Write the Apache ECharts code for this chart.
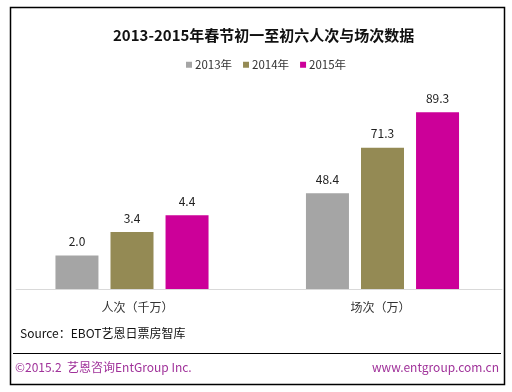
<!DOCTYPE html>
<html><head><meta charset="utf-8">
<script src="https://cdn.jsdelivr.net/npm/echarts@6/dist/echarts.min.js"></script>
<style>html,body{margin:0;padding:0;background:#fff}#c{width:512px;height:392px}</style>
</head><body><div id="c"></div>
<script>
const categories = ['人次（千万）', '场次（万）'];
const years = ['2013年', '2014年', '2015年'];
const viewers = [2.0, 3.4, 4.4];
const screenings = [48.4, 71.3, 89.3];
const colors = ['#A5A5A5', '#948A54', '#CC0099'];

const FONT = '"Noto Sans CJK SC", "Noto Sans", sans-serif';
const chart = echarts.init(document.getElementById('c'), null, {renderer: 'canvas'});

const series = [];
years.forEach((y, i) => {
  const common = {
    type: 'bar', name: y, barWidth: 43, barGap: '28%',
    itemStyle: {color: colors[i]},
    label: {show: true, position: 'top', distance: 8, color: '#222', fontSize: 12, fontFamily: FONT,
      formatter: p => Number(p.value).toFixed(1)}
  };
  series.push(Object.assign({}, common, {xAxisIndex: 1, yAxisIndex: 1, data: [viewers[i]]}));
  series.push(Object.assign({}, common, {xAxisIndex: 2, yAxisIndex: 2, data: [screenings[i]]}));
});

const hiddenX = (idx) => ({type: 'category', gridIndex: idx, data: [''], show: false});
const hiddenY = (idx, max) => ({type: 'value', gridIndex: idx, min: 0, max: max, show: false, splitLine: {show: false}});

chart.setOption({
  animation: false,
  textStyle: {fontFamily: FONT},
  title: {
    text: '2013-2015年春节初一至初六人次与场次数据',
    left: 108, top: 23,
    textStyle: {fontSize: 15, fontWeight: 'bold', color: '#111', fontFamily: FONT}
  },
  legend: {
    data: years, top: 54, left: 181,
    itemWidth: 6, itemHeight: 6, itemGap: 11,
    icon: 'rect',
    textStyle: {fontSize: 11.5, color: '#333', fontFamily: FONT, padding: [0, 0, 0, -2]}
  },
  grid: [
    {left: 16, width: 486, top: 91, height: 198},
    {left: 16, width: 232, top: 91, height: 198},
    {left: 263, width: 239, top: 91, height: 198}
  ],
  xAxis: [
    {type: 'category', gridIndex: 0, data: categories,
      axisLine: {lineStyle: {color: '#D9D9D9', width: 1}},
      axisTick: {show: false},
      axisLabel: {color: '#333', fontSize: 12, margin: 12, fontFamily: FONT}},
    hiddenX(1), hiddenX(2)
  ],
  yAxis: [hiddenY(0, 1), hiddenY(1, 11.8), hiddenY(2, 100)],
  series: series,
  graphic: [
    {type: 'rect', shape: {x: 10.5, y: 7.5, width: 494, height: 377}, style: {fill: 'none', stroke: '#000', lineWidth: 1.5}, z: 10},
    {type: 'line', shape: {x1: 13, y1: 353.5, x2: 501, y2: 353.5}, style: {stroke: '#000', lineWidth: 1}, z: 10},
    {type: 'text', left: 20, top: 327, style: {text: 'Source：EBOT艺恩日票房智库', fill: '#111', font: '12px ' + FONT}, z: 10},
    {type: 'text', left: 15, top: 361, style: {text: '©2015.2  艺恩咨询EntGroup Inc.', fill: '#A0329A', font: '12px ' + FONT}, z: 10},
    {type: 'text', right: 13, top: 361, style: {text: 'www.entgroup.com.cn', fill: '#A0329A', font: '12px ' + FONT}, z: 10}
  ]
});
</script></body></html>
